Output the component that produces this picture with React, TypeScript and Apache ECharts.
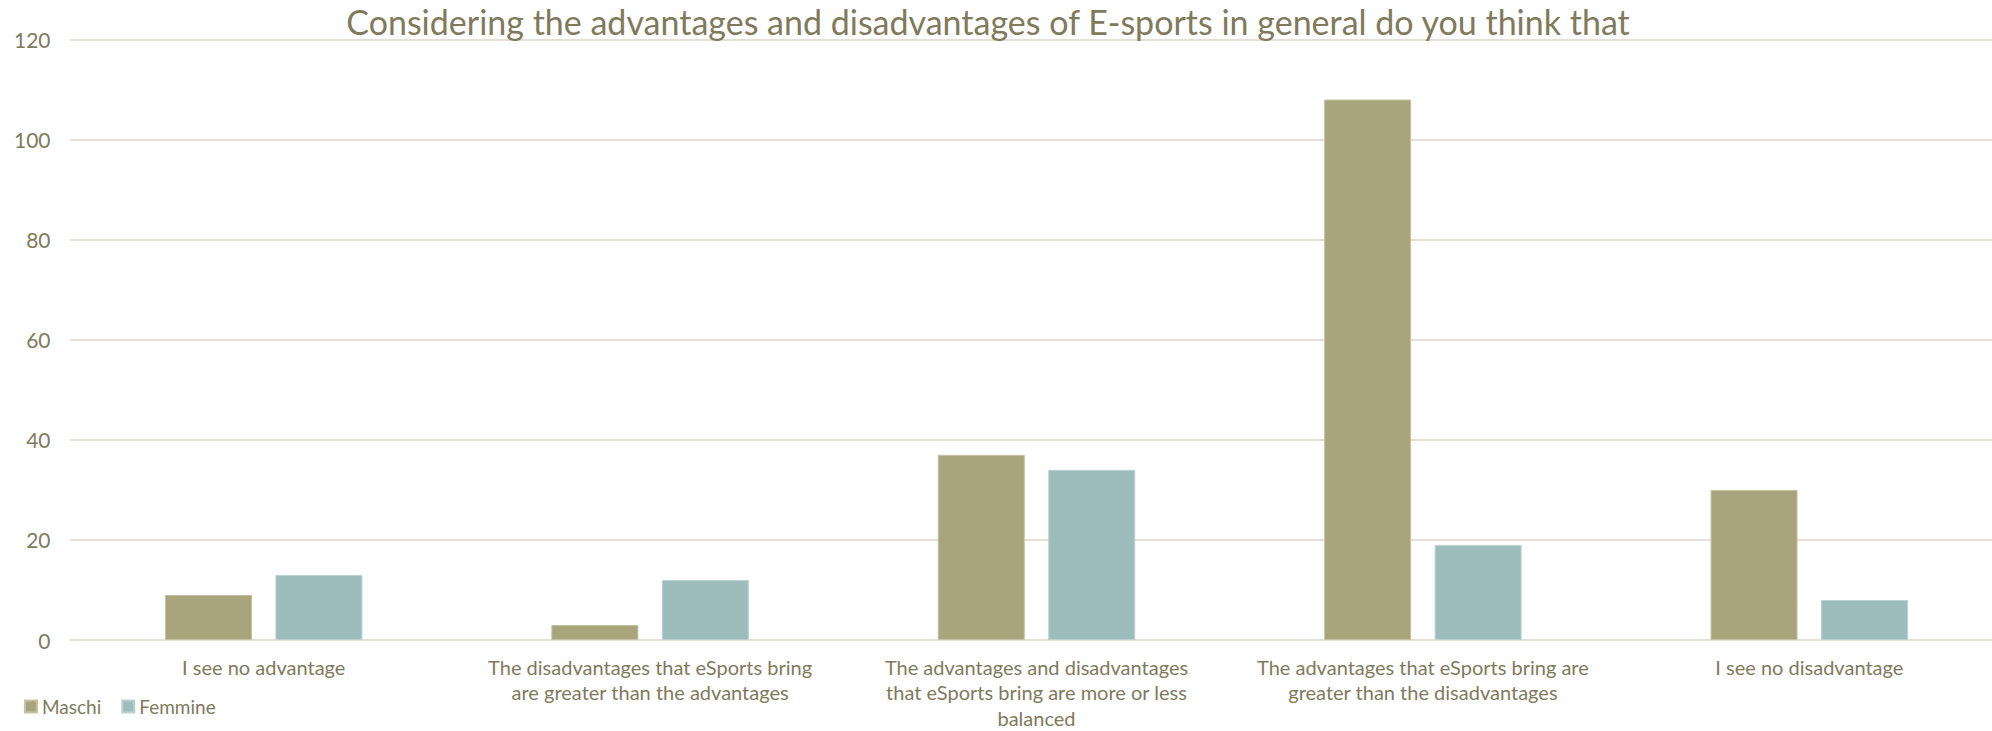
import React, { useEffect, useRef } from "react";
import * as echarts from "echarts";

const TITLE = "Considering the advantages and disadvantages of E-sports in general do you think that";
const categories = [
  "I see no advantage",
  "The disadvantages that eSports bring\nare greater than the advantages",
  "The advantages and disadvantages\nthat eSports bring are more or less\nbalanced",
  "The advantages that eSports bring are\ngreater than the disadvantages",
  "I see no disadvantage",
];
const seriesNames = ["Maschi", "Femmine"];
const maschi = [9, 3, 37, 108, 30];
const femmine = [13, 12, 34, 19, 8];
const yTicks = { min: 0, max: 120, interval: 20 };

const TEXT = "#7F7A5C";
const GRID = "#E4E0D8";
const FONT = "Lato";

export default function App() {
  const ref = useRef<HTMLDivElement>(null);
  useEffect(() => {
    if (!ref.current) return;
    const chart = echarts.init(ref.current, undefined, { renderer: "svg" });
    chart.setOption({
      animation: false,
      backgroundColor: "#ffffff",
      title: {
        text: TITLE,
        left: 983,
        textAlign: "center",
        top: -1,
        textStyle: { color: TEXT, fontFamily: FONT, fontSize: 34, fontWeight: "normal" },
      },
      legend: {
        data: seriesNames,
        left: 19,
        top: 692,
        icon: "rect",
        itemWidth: 12,
        itemHeight: 12,
        itemGap: 20,
        textStyle: { color: TEXT, fontFamily: FONT, fontSize: 19 },
      },
      grid: {
        left: 70.5,
        top: 39.5,
        width: 1932,
        height: 600.5,
        containLabel: false,
        outerBoundsMode: "none",
      },
      xAxis: {
        type: "category",
        data: categories,
        axisTick: { show: false },
        axisLine: { show: true, lineStyle: { color: GRID, width: 2 } },
        axisLabel: {
          interval: 0,
          color: TEXT,
          fontFamily: FONT,
          fontSize: 20,
          lineHeight: 25.5,
          margin: 14,
          align: "center",
        },
      },
      yAxis: {
        type: "value",
        min: yTicks.min,
        max: yTicks.max,
        interval: yTicks.interval,
        axisLine: { show: false },
        axisTick: { show: false },
        splitLine: { lineStyle: { color: GRID, width: 2 } },
        axisLabel: { color: TEXT, fontFamily: FONT, fontSize: 21, margin: 20 },
      },
      series: [
        {
          name: seriesNames[0],
          type: "bar",
          data: maschi,
          barWidth: 87,
          barGap: "27%",
          itemStyle: { color: "#A8A47B", borderColor: "#C4C1A4", borderWidth: 1 },
        },
        {
          name: seriesNames[1],
          type: "bar",
          data: femmine,
          barWidth: 87,
          itemStyle: { color: "#9DBDBC", borderColor: "#B9D2D1", borderWidth: 1 },
        },
      ],
    });
    return () => chart.dispose();
  }, []);
  return (
    <div
      ref={ref}
      style={{ position: "fixed", left: 0, top: 0, width: 1992, height: 731, background: "#fff" }}
    />
  );
}
